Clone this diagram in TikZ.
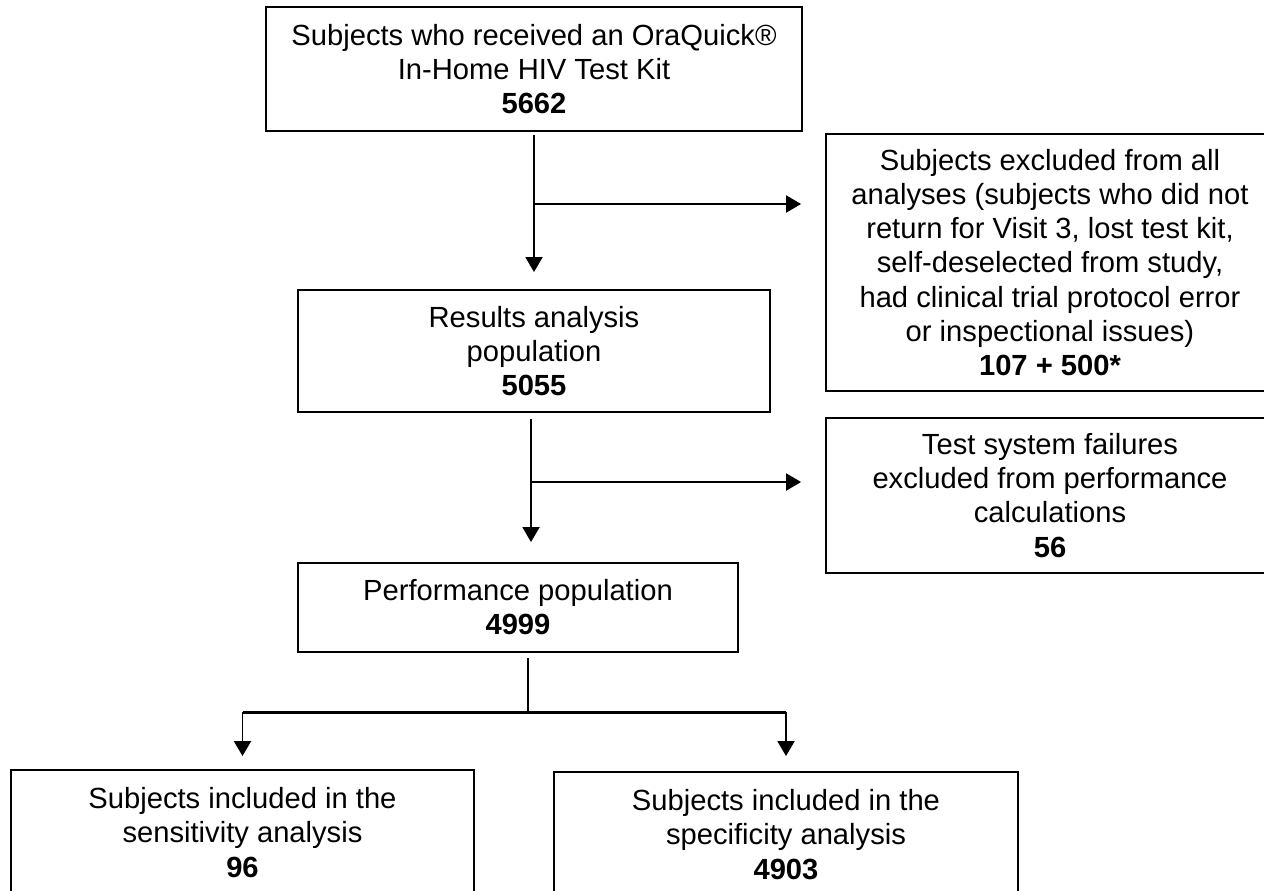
\documentclass[tikz,border=0pt]{standalone}
\usepackage{fontspec}
\setmainfont{Liberation Sans}
\usepackage{tikz}
\usetikzlibrary{positioning,arrows.meta}
\usetikzlibrary{calc}

\begin{document}
\begin{tikzpicture}[x=0.02cm,y=-0.02cm,
    box/.style={draw,line width=1.1pt,align=center,inner sep=0pt},
    arr/.style={-{Triangle[length=0.3cm,width=0.34cm]},line width=1.1pt},
    every node/.style={font=\fontsize{16.6pt}{19.4pt}\selectfont}]
    \useasboundingbox (0,0) rectangle (1264,890);
    \node[box,minimum width=10.72cm,minimum height=2.48cm] (kit) at (534,69) {Subjects who received an OraQuick®\\In-Home HIV Test Kit\\\textbf{5662}};
    \node[box,minimum width=8.96cm,minimum height=5.14cm] (excl) at (1050,262.5) {Subjects excluded from all\\analyses (subjects who did not\\return for Visit 3, lost test kit,\\self-deselected from study,\\had clinical trial protocol error\\or inspectional issues)\\\textbf{107 + 500*}};
    \node[box,minimum width=9.44cm,minimum height=2.44cm] (results) at (534,351) {Results analysis\\population\\\textbf{5055}};
    \node[box,minimum width=8.96cm,minimum height=3.1cm] (fail) at (1050,495.5) {Test system failures\\excluded from performance\\calculations\\\textbf{56}};
    \node[box,minimum width=8.8cm,minimum height=1.78cm] (perf) at (518,607.5) {Performance population\\\textbf{4999}};
    \node[box,minimum width=9.26cm,minimum height=2.5cm] (sens) at (242.5,832.5) {Subjects included in the\\sensitivity analysis\\\textbf{96}};
    \node[box,minimum width=9.28cm,minimum height=2.5cm] (spec) at (786,834.5) {Subjects included in the\\specificity analysis\\\textbf{4903}};
    \coordinate (j1) at (534,204);
    \coordinate (j2) at (531,482);
    \coordinate (split) at (528,712);
    \draw[arr,shorten <=0.06cm,shorten >=0.34cm] (kit.south) -- (results.north);
    \draw[arr,shorten >=0.48cm] (j1) -- (j1 -| excl.west);
    \draw[arr,shorten <=0.12cm,shorten >=0.4cm] (results.south -| j2) -- (perf.north -| j2);
    \draw[arr,shorten >=0.48cm] (j2) -- (j2 -| fail.west);
    \draw[line width=1.1pt,shorten <=0.1cm] (perf.south -| split) -- (split);
    \draw[line width=1.7pt] (sens.north |- split) -- (spec.north |- split);
    \draw[arr,shorten >=0.26cm] (sens.north |- split) -- (sens.north);
    \draw[arr,shorten >=0.3cm] (spec.north |- split) -- (spec.north);
\end{tikzpicture}
\end{document}
